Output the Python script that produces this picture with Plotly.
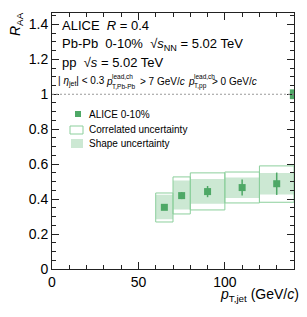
import plotly.graph_objects as go

# ---------------- data ----------------
bin_lo = [60, 70, 80, 100, 120]
bin_hi = [70, 80, 100, 120, 140]
pt_center = [65, 75, 90, 110, 130]
raa = [0.353, 0.420, 0.443, 0.466, 0.488]
stat_err = [0.012, 0.020, 0.032, 0.046, 0.064]
corr_up = [0.082, 0.107, 0.107, 0.089, 0.102]
corr_dn = [0.084, 0.105, 0.105, 0.088, 0.106]
shape_up = [0.072, 0.086, 0.072, 0.058, 0.062]
shape_dn = [0.069, 0.080, 0.069, 0.059, 0.061]
norm_center = [1.0]
norm_err = [0.028]
norm_x = [137.6, 140.0]

x_ticks = [0, 50, 100]
y_ticks = [0, 0.2, 0.4, 0.6, 0.8, 1, 1.2, 1.4]

GREEN = "#4ea866"
FILL = "#cce8d3"
EDGE = "#8ccf9c"
FONT = "Liberation Sans, Arial, Helvetica, sans-serif"

W, H = 307, 317
L, R, T, B = 52, 13, 13, 48
PW, PH = W - L - R, H - T - B


def px(x):
    return (x - L) / PW


def py(y):
    return (H - B - y) / PH


def boxes(lo, hi, yc, up, dn):
    xs, ys = [], []
    for a, b, c, u, d in zip(lo, hi, yc, up, dn):
        xs += [a, b, b, a, a, None]
        ys += [c - d, c - d, c + u, c + u, c - d, None]
    return xs, ys


fig = go.Figure()

sx, sy = boxes(bin_lo, bin_hi, raa, shape_up, shape_dn)
fig.add_trace(go.Scatter(x=sx, y=sy, mode="lines", fill="toself",
                         fillcolor=FILL, line=dict(width=0),
                         hoverinfo="skip", showlegend=False))
cx, cy = boxes(bin_lo, bin_hi, raa, corr_up, corr_dn)
fig.add_trace(go.Scatter(x=cx, y=cy, mode="lines", fill="toself",
                         fillcolor="rgba(0,0,0,0)", line=dict(width=1, color=EDGE),
                         hoverinfo="skip", showlegend=False))
nx, ny = boxes([norm_x[0]], [norm_x[1]], norm_center, norm_err, norm_err)
fig.add_trace(go.Scatter(x=nx, y=ny, mode="lines", fill="toself",
                         fillcolor=GREEN, line=dict(width=0),
                         hoverinfo="skip", showlegend=False))
fig.add_trace(go.Scatter(x=pt_center, y=raa, mode="markers",
                         marker=dict(symbol="square", size=7, color=GREEN),
                         error_y=dict(type="data", array=stat_err, color=GREEN,
                                      thickness=1.5, width=0),
                         showlegend=False))

fig.add_hline(y=1, line=dict(color="#9a9a9a", width=1, dash="2px,2px"))

axis_common = dict(showline=True, linecolor="#222", linewidth=1, mirror="allticks",
                   ticks="inside", tickcolor="#222", showgrid=False, zeroline=False,
                   tickfont=dict(family=FONT, size=14, color="black"))
fig.update_xaxes(range=[0, 140], tickvals=x_ticks, ticklen=7,
                 minor=dict(dtick=10, ticks="inside", ticklen=4, tickcolor="#222"),
                 **axis_common)
fig.update_yaxes(range=[0, 1.465], tickvals=y_ticks, ticklen=7,
                 minor=dict(dtick=0.05, ticks="inside", ticklen=4, tickcolor="#222"),
                 **axis_common)

ann = []


def txt(text, x, y, size, xanchor="left", yanchor="middle", angle=0):
    ann.append(dict(text=text, x=px(x), y=py(y), xref="paper", yref="paper",
                    xanchor=xanchor, yanchor=yanchor, showarrow=False, textangle=angle,
                    font=dict(family=FONT, size=size, color="black")))


# header text
txt("ALICE  <i>R</i> = 0.4", 60, 25, 13)
txt("Pb-Pb  0-10%  √<i>s</i><sub>NN</sub> = 5.02 TeV", 60, 44, 13)
txt("pp  √<i>s</i> = 5.02 TeV", 60, 62, 13)
txt("| <i>η</i><sub>jet</sub>| < 0.3", 56, 81, 10)
txt("<i>p</i>", 104, 81, 10)
txt("lead,ch", 110, 76, 6.5)
txt("T,Pb-Pb", 110, 86, 6.5)
txt("> 7 GeV/<i>c</i>", 138, 81, 10)
txt("<i>p</i>", 186, 81, 10)
txt("lead,ch", 192, 76, 6.5)
txt("T,pp", 192, 86, 6.5)
txt("> 0 GeV/<i>c</i>", 210, 81, 10)

# legend
txt("ALICE 0-10%", 87, 114, 10)
txt("Correlated uncertainty", 87, 129, 10)
txt("Shape uncertainty", 87, 143, 10)

# axis titles
txt("<i>p</i><sub>T,jet</sub> (GeV/<i>c</i>)", 301, 295, 14, xanchor="right")
txt("<i>R</i><sub>AA</sub>", 16, 10, 14, xanchor="center", yanchor="top", angle=-90)

shapes = [
    dict(type="line", xref="paper", yref="paper", x0=px(78), x1=px(78),
         y0=py(105), y1=py(122), line=dict(color=GREEN, width=1.5)),
    dict(type="rect", xref="paper", yref="paper", x0=px(75), x1=px(81),
         y0=py(111), y1=py(117), fillcolor=GREEN, line=dict(width=0)),
    dict(type="rect", xref="paper", yref="paper", x0=px(70), x1=px(83),
         y0=py(126), y1=py(134), fillcolor="rgba(0,0,0,0)", line=dict(color=EDGE, width=1)),
    dict(type="rect", xref="paper", yref="paper", x0=px(71), x1=px(83),
         y0=py(139), y1=py(148), fillcolor=FILL, line=dict(width=0)),
]

fig.update_layout(width=W, height=H, margin=dict(l=L, r=R, t=T, b=B),
                  paper_bgcolor="white", plot_bgcolor="white",
                  annotations=ann, shapes=shapes, showlegend=False)

fig.write_html("out.html", config={"displayModeBar": False},
               post_script="document.body.style.margin='0';"
                           "document.body.style.overflow='hidden';")
